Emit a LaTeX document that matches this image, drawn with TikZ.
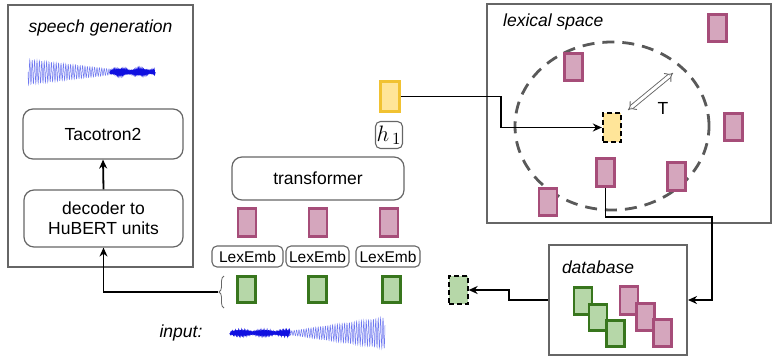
\documentclass[tikz,border=0pt]{standalone}
\usepackage{fontspec}
\usepackage{graphicx}
\setmainfont{Liberation Sans}
\usetikzlibrary{arrows.meta,shapes.geometric,decorations.pathreplacing}
\definecolor{gfill}{HTML}{B6D7A8}
\definecolor{gdraw}{HTML}{38761D}
\definecolor{pfill}{HTML}{D5A6BD}
\definecolor{pdraw}{HTML}{A64D79}
\definecolor{yfill}{HTML}{FFE599}
\definecolor{ydraw}{HTML}{F1C232}
\definecolor{framegray}{HTML}{666666}
\definecolor{dashgray}{HTML}{595959}
\definecolor{wavelight}{HTML}{6E78F0}
\definecolor{wavedark}{HTML}{1010E0}
\newcommand\mainsz{\fontsize{17.5}{21}\selectfont}
\newcommand\lexsz{\fontsize{15.5}{18}\selectfont}
\begin{document}
\begin{tikzpicture}[x=1pt,y=-1pt,
  frame/.style={draw=framegray, line width=2pt, inner sep=0pt},
  rbox/.style={draw=framegray, rounded corners=10pt, line width=1.2pt, align=center, font=\mainsz, inner sep=0pt},
  lbox/.style={draw=framegray, rounded corners=5pt, line width=1.1pt, font=\lexsz, inner sep=0pt, minimum height=21pt},
  gbox/.style={draw=gdraw, fill=gfill, line width=2.8pt, minimum width=18pt, minimum height=26.5pt, inner sep=0pt},
  pbox/.style={draw=pdraw, fill=pfill, line width=2.8pt, minimum width=18pt, minimum height=27.5pt, inner sep=0pt},
  ybox/.style={draw=ydraw, fill=yfill, line width=2.8pt, minimum width=18.5pt, minimum height=29.5pt, inner sep=0pt},
  qbox/.style={draw=black, dash pattern=on 5pt off 3pt, line width=1.8pt, minimum width=18.5pt, minimum height=28.5pt, inner sep=0pt},
  lab/.style={font=\mainsz\itshape, inner sep=0pt},
  conn/.style={line width=1.8pt, -{Stealth[length=9pt,width=8pt]}}
]
\useasboundingbox (0,0) rectangle (775,356);

% speech generation
\node[frame, minimum width=185pt, minimum height=262pt] (sg) at (100.5,136) {};
\node[lab] (sglab) at (100.5,28) {speech generation};
\draw[wavelight, line width=0.5pt] plot[domain=0:82, samples=420] ({\x+28}, {72 + (12.5 - 9.5*\x/82)*sin(\x*150)});
\draw[wavedark, line width=1.1pt] plot[domain=0:45, samples=260] ({\x+110}, {72 + (1.2+1.6*abs(sin(\x*9)))*sin(\x*300)});
\node[rbox, minimum width=160pt, minimum height=50pt] (taco) at (103,134) {Tacotron2};
\node[rbox, minimum width=159pt, minimum height=57pt] (dec) at (103.5,218.5) {decoder to\\[-1pt]HuBERT units};
\draw[conn] (dec.north) -- (taco.south);

% transformer stack
\node[ybox] (y1) at (390,96.5) {};
\node[lbox, minimum width=27pt, minimum height=27pt] (h1) at (389,135) {\scalebox{1.55}{$h_{\,1}$}};
\node[rbox, minimum width=172pt, minimum height=43pt] (tr) at (318,178.5) {transformer};
\node[pbox] (pa) at (247,222.5) {};
\node[pbox] (pb) at (318,222.5) {};
\node[pbox] (pc) at (389,222.5) {};
\node[lbox, minimum width=71pt] (le1) at (247.5,256.5) {LexEmb};
\node[lbox, minimum width=63pt] (le2) at (317.5,256.5) {LexEmb};
\node[lbox, minimum width=64pt] (le3) at (388,256.5) {LexEmb};
\node[gbox] (ga) at (246.5,289.5) {};
\node[gbox] (gb) at (317.5,289.5) {};
\node[gbox] (gc) at (391.5,289.5) {};
\node[qbox, fill=gfill] (qg) at (458.5,290) {};

% brace and input
\draw[framegray, line width=0.8pt, decorate, decoration={brace, amplitude=5pt}] (224,308) -- (224,276);
\coordinate (bt) at (218,292);
\draw[conn] (bt) -| (dec.south);
\node[lab] (inp) at (181,333) {input:};
\draw[wavedark, line width=1.1pt] plot[domain=0:60, samples=300] ({\x+230}, {333 + (1.2+1.6*abs(sin(\x*8)))*sin(\x*240)});
\draw[wavelight, line width=0.5pt] plot[domain=0:95, samples=480] ({\x+290}, {333 + (2 + 13.5*\x/95)*sin(\x*150)});

% lexical space
\node[frame, minimum width=284pt, minimum height=219pt] (lex) at (629,113.5) {};
\node[lab, anchor=west] (lexlab) at (503,22) {lexical space};
\node[ellipse, draw=dashgray, line width=2.8pt, dash pattern=on 12pt off 8pt, minimum width=194pt, minimum height=168pt, inner sep=0pt] (circ) at (612,126) {};
\node[pbox] (l1) at (573.5,67) {};
\node[pbox] (l2) at (717.5,28) {};
\node[pbox] (l3) at (733.5,127) {};
\node[pbox] (l4) at (605.5,172.5) {};
\node[pbox] (l5) at (676.5,176.5) {};
\node[pbox] (l6) at (548,202) {};
\node[qbox, fill=yfill] (qy) at (612,127.5) {};
\coordinate (ta) at (628,110);
\coordinate (tb) at (673,73);
\draw[framegray, line width=0.9pt, double=white, double distance=3pt, {Implies}-{Implies}] (ta) -- (tb);
\node[font=\mainsz, inner sep=0pt] (tlab) at (663,108) {T};

% database
\node[frame, minimum width=138pt, minimum height=110pt] (db) at (618,300) {};
\node[lab] (dblab) at (598,267) {database};
\node[gbox] (d1) at (583,301) {};
\node[gbox] (d2) at (598,317.5) {};
\node[gbox] (d3) at (615.5,333.5) {};
\node[pbox] (e1) at (629,300.5) {};
\node[pbox] (e2) at (645.5,317) {};
\node[pbox] (e3) at (662.5,333) {};

% connectors
\coordinate (c1) at (501,96.5);
\draw[conn] (y1.east) -- (c1) |- (qy.west);
\coordinate (c2) at (712,217);
\draw[conn] (l4.south) |- (c2) |- (db.east);
\coordinate (c3) at (509,300);
\draw[conn] (db.west) -- (c3) |- (qg.east);
\end{tikzpicture}
\end{document}
